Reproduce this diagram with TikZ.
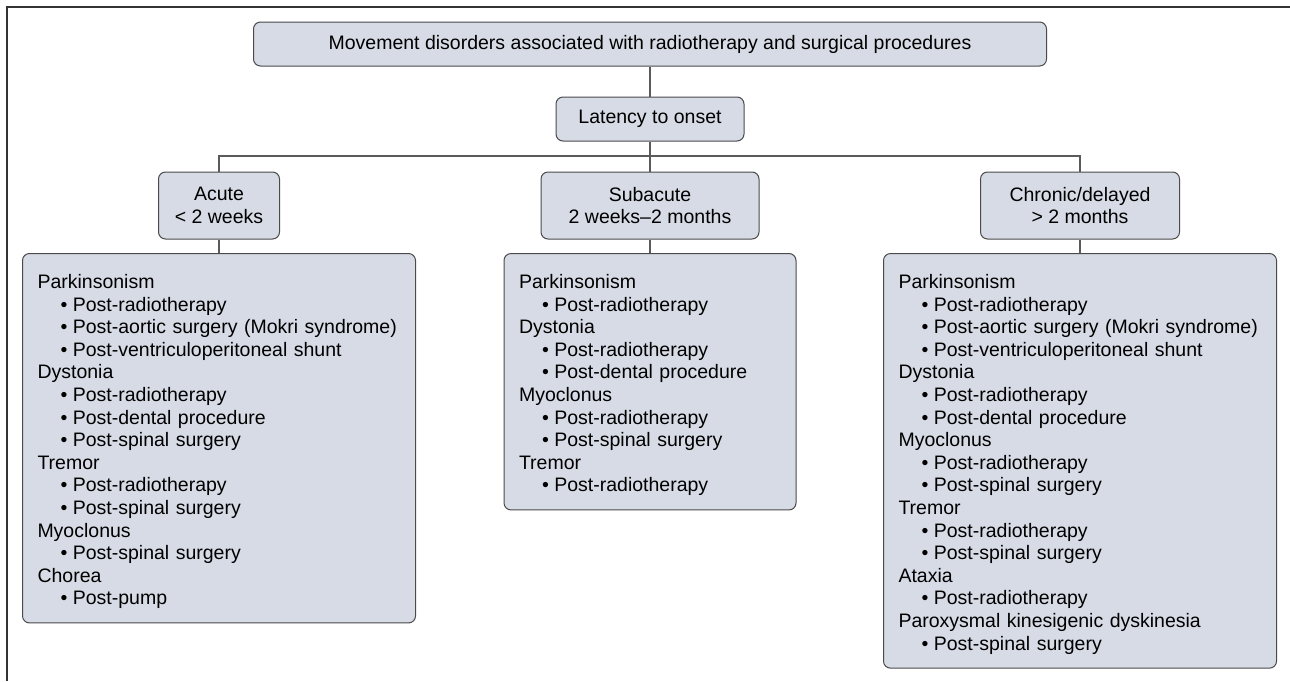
\documentclass[tikz,border=0pt]{standalone}
\usepackage{fontspec}
\setmainfont{Liberation Sans}
\usetikzlibrary{positioning}
\definecolor{boxfill}{HTML}{D7DBE5}
\definecolor{boxline}{HTML}{4A4A4A}
\definecolor{linkgray}{HTML}{5A5A5A}
\newcommand{\lbul}{\hspace*{23pt}\textbullet\hspace{5.5pt}}
\newcommand{\lfirst}{\rule{0pt}{21pt}}
\tikzset{
  box/.style={draw=boxline, fill=boxfill, rounded corners=7pt, line width=1pt,
    align=center, inner sep=0pt, font=\fontsize{19.5}{22.6}\selectfont},
  listbox/.style={box, align=left, anchor=north, inner xsep=15pt, inner ysep=14pt},
  link/.style={draw=linkgray, line width=1.1pt}
}

\begin{document}
\begin{tikzpicture}[x=1pt,y=-1pt]
    \useasboundingbox (0,0) rectangle (1290,681);
    \draw[line width=1.5pt,black!80] (7,681) -- (7,7) -- (1290,7);
    % top of the tree
    \node[box,minimum width=793pt,minimum height=44pt] (title) at (650,44)
      {Movement disorders associated with radiotherapy and surgical procedures};
    \node[box,minimum width=188pt,minimum height=44pt] (latency) at (650,119)
      {Latency to onset};
    % latency groups
    \node[box,minimum width=121pt,minimum height=67pt] (acute) at (219,205.5)
      {Acute\\< 2 weeks};
    \node[box,minimum width=218pt,minimum height=67pt] (subacute) at (650,205.5)
      {Subacute\\2 weeks--2 months};
    \node[box,minimum width=199pt,minimum height=67pt] (chronic) at (1080,205.5)
      {Chronic/delayed\\> 2 months};
    % lists
    \node[listbox,minimum width=393pt,text width=363pt] (acutelist) at (219,253)
      {\lfirst Parkinsonism\\
       \lbul Post-radiotherapy\\
       \lbul Post-aortic surgery (Mokri syndrome)\\
       \lbul Post-ventriculoperitoneal shunt\\
       Dystonia\\
       \lbul Post-radiotherapy\\
       \lbul Post-dental procedure\\
       \lbul Post-spinal surgery\\
       Tremor\\
       \lbul Post-radiotherapy\\
       \lbul Post-spinal surgery\\
       Myoclonus\\
       \lbul Post-spinal surgery\\
       Chorea\\
       \lbul Post-pump};
    \node[listbox,minimum width=292pt,text width=262pt] (subacutelist) at (650,253)
      {\lfirst Parkinsonism\\
       \lbul Post-radiotherapy\\
       Dystonia\\
       \lbul Post-radiotherapy\\
       \lbul Post-dental procedure\\
       Myoclonus\\
       \lbul Post-radiotherapy\\
       \lbul Post-spinal surgery\\
       Tremor\\
       \lbul Post-radiotherapy};
    \node[listbox,minimum width=393pt,text width=363pt] (chroniclist) at (1080,253)
      {\lfirst Parkinsonism\\
       \lbul Post-radiotherapy\\
       \lbul Post-aortic surgery (Mokri syndrome)\\
       \lbul Post-ventriculoperitoneal shunt\\
       Dystonia\\
       \lbul Post-radiotherapy\\
       \lbul Post-dental procedure\\
       Myoclonus\\
       \lbul Post-radiotherapy\\
       \lbul Post-spinal surgery\\
       Tremor\\
       \lbul Post-radiotherapy\\
       \lbul Post-spinal surgery\\
       Ataxia\\
       \lbul Post-radiotherapy\\
       Paroxysmal kinesigenic dyskinesia\\
       \lbul Post-spinal surgery};
    % connectors
    \coordinate (fork) at (650,156);
    \draw[link] (title) -- (latency);
    \draw[link] (latency) -- (fork);
    \draw[link] (acute.north) |- (chronic.north |- fork) -- (chronic.north);
    \draw[link] (fork) -- (subacute);
    \draw[link] (acute) -- (acutelist);
    \draw[link] (subacute) -- (subacutelist);
    \draw[link] (chronic) -- (chroniclist);
\end{tikzpicture}
\end{document}
